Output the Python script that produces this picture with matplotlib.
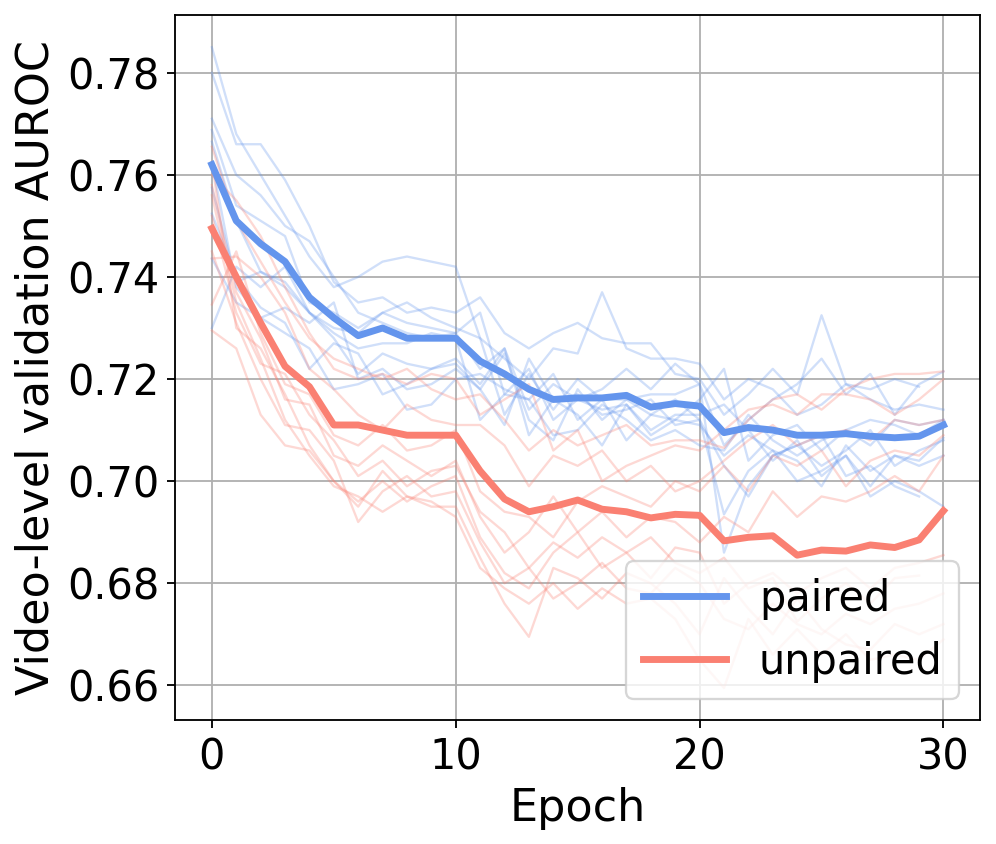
import numpy as np
import matplotlib
matplotlib.use("Agg")
import matplotlib.pyplot as plt

epochs = np.arange(31)

# mean curves
paired_mean = [0.762, 0.751, 0.7465, 0.743, 0.736, 0.732, 0.7285, 0.730, 0.728, 0.728, 0.728,
               0.7235, 0.721, 0.718, 0.716, 0.7163, 0.7163, 0.7168, 0.7145, 0.7152, 0.7147,
               0.7095, 0.7105, 0.710, 0.709, 0.709, 0.7093, 0.7088, 0.7085, 0.7088, 0.711]
unpaired_mean = [0.7495, 0.740, 0.731, 0.7225, 0.7185, 0.711, 0.711, 0.710, 0.709, 0.709, 0.709,
                 0.702, 0.6965, 0.694, 0.695, 0.6963, 0.6945, 0.694, 0.6928, 0.6935, 0.6933,
                 0.6883, 0.689, 0.6893, 0.6855, 0.6865, 0.6863, 0.6875, 0.687, 0.6885, 0.6942]

# individual runs (paired)
paired_runs = [
    [0.785, 0.768, 0.760, 0.752, 0.744, 0.738, 0.740, 0.743, 0.744, 0.743, 0.742, 0.728, 0.724, 0.720, 0.726, 0.725,
     0.737, 0.726, 0.724, 0.724, 0.723, 0.716, 0.720, 0.718, 0.713, 0.715, 0.719, 0.716, 0.714, 0.715, 0.714],
    [0.780, 0.766, 0.766, 0.759, 0.750, 0.739, 0.735, 0.736, 0.733, 0.734, 0.733, 0.736, 0.729, 0.726, 0.729, 0.731,
     0.728, 0.727, 0.727, 0.721, 0.720, 0.713, 0.717, 0.722, 0.717, 0.7325, 0.719, 0.718, 0.720, 0.7185],
    [0.771, 0.760, 0.756, 0.750, 0.747, 0.740, 0.733, 0.731, 0.729, 0.728, 0.729, 0.722, 0.726, 0.714, 0.719, 0.716,
     0.718, 0.722, 0.718, 0.723, 0.719, 0.707, 0.712, 0.716, 0.719, 0.724, 0.717, 0.721, 0.713, 0.719, 0.7215],
    [0.7688, 0.754, 0.751, 0.748, 0.735, 0.733, 0.730, 0.733, 0.731, 0.730, 0.729, 0.733, 0.717, 0.722, 0.712, 0.716,
     0.714, 0.715, 0.709, 0.712, 0.716, 0.722, 0.704, 0.709, 0.711, 0.706, 0.710, 0.712, 0.711, 0.709, 0.712],
    [0.7665, 0.751, 0.741, 0.739, 0.733, 0.728, 0.721, 0.725, 0.723, 0.722, 0.723, 0.718, 0.725, 0.712, 0.708, 0.718,
     0.712, 0.716, 0.713, 0.712, 0.711, 0.705, 0.709, 0.706, 0.704, 0.699, 0.707, 0.702, 0.705, 0.703, 0.705],
    [0.7575, 0.739, 0.741, 0.738, 0.733, 0.729, 0.726, 0.727, 0.727, 0.729, 0.728, 0.712, 0.717, 0.716, 0.721, 0.712,
     0.716, 0.708, 0.713, 0.716, 0.712, 0.703, 0.697, 0.705, 0.707, 0.709, 0.701, 0.703, 0.699, 0.697],
    [0.7524, 0.740, 0.734, 0.731, 0.722, 0.727, 0.725, 0.717, 0.719, 0.722, 0.724, 0.719, 0.726, 0.709, 0.716, 0.713,
     0.707, 0.715, 0.710, 0.713, 0.713, 0.715, 0.710, 0.704, 0.708, 0.701, 0.705, 0.697, 0.700, 0.698, 0.695],
    [0.7436, 0.735, 0.732, 0.734, 0.731, 0.735, 0.720, 0.722, 0.718, 0.719, 0.722, 0.718, 0.711, 0.724, 0.716, 0.717,
     0.713, 0.714, 0.716, 0.711, 0.712, 0.6935, 0.702, 0.706, 0.700, 0.702, 0.705, 0.699, 0.705, 0.704, 0.7085],
    [0.730, 0.742, 0.738, 0.742, 0.733, 0.730, 0.729, 0.733, 0.735, 0.732, 0.730, 0.728, 0.713, 0.721, 0.714, 0.720,
     0.716, 0.716, 0.717, 0.717, 0.719, 0.686, 0.699, 0.705, 0.707, 0.703, 0.706, 0.710, 0.703, 0.706, 0.708],
    [0.7625, 0.738, 0.732, 0.729, 0.726, 0.718, 0.719, 0.721, 0.714, 0.715, 0.720, 0.721, 0.718, 0.716, 0.709, 0.710,
     0.715, 0.712, 0.708, 0.710, 0.707, 0.706, 0.713, 0.708, 0.705, 0.708, 0.710, 0.707, 0.712, 0.711, 0.712],
]

# individual runs (unpaired)
unpaired_runs = [
    [0.7655, 0.751, 0.743, 0.735, 0.728, 0.724, 0.722, 0.720, 0.722, 0.718, 0.716, 0.717, 0.712, 0.706, 0.710, 0.707,
     0.709, 0.711, 0.707, 0.708, 0.708, 0.7065, 0.712, 0.716, 0.717, 0.714, 0.718, 0.720, 0.721, 0.721, 0.7215],
    [0.760, 0.755, 0.748, 0.738, 0.729, 0.722, 0.720, 0.721, 0.719, 0.721, 0.720, 0.713, 0.716, 0.719, 0.706, 0.710,
     0.700, 0.703, 0.705, 0.707, 0.706, 0.710, 0.714, 0.715, 0.713, 0.717, 0.717, 0.716, 0.713, 0.716, 0.720],
    [0.7436, 0.744, 0.740, 0.733, 0.722, 0.718, 0.713, 0.710, 0.715, 0.712, 0.711, 0.711, 0.707, 0.699, 0.705, 0.703,
     0.706, 0.700, 0.703, 0.698, 0.700, 0.704, 0.708, 0.711, 0.707, 0.709, 0.710, 0.708, 0.712, 0.711, 0.712],
    [0.7346, 0.745, 0.729, 0.719, 0.717, 0.709, 0.707, 0.711, 0.706, 0.707, 0.710, 0.698, 0.694, 0.693, 0.689, 0.696,
     0.699, 0.697, 0.695, 0.700, 0.698, 0.703, 0.698, 0.705, 0.703, 0.706, 0.699, 0.704, 0.706, 0.705, 0.709],
    [0.758, 0.737, 0.728, 0.716, 0.715, 0.705, 0.703, 0.707, 0.704, 0.701, 0.704, 0.693, 0.686, 0.690, 0.697, 0.690,
     0.694, 0.689, 0.693, 0.692, 0.688, 0.693, 0.690, 0.698, 0.693, 0.697, 0.696, 0.698, 0.701, 0.698, 0.705],
    [0.752, 0.733, 0.723, 0.721, 0.713, 0.708, 0.701, 0.704, 0.699, 0.702, 0.703, 0.694, 0.690, 0.683, 0.688, 0.685,
     0.689, 0.686, 0.681, 0.687, 0.686, 0.676, 0.680, 0.682, 0.678, 0.681, 0.683, 0.679, 0.683, 0.684, 0.6855],
    [0.7625, 0.730, 0.726, 0.717, 0.707, 0.700, 0.696, 0.700, 0.696, 0.699, 0.701, 0.689, 0.682, 0.679, 0.686, 0.690,
     0.683, 0.686, 0.689, 0.684, 0.682, 0.685, 0.679, 0.681, 0.6725, 0.677, 0.680, 0.676, 0.681, 0.6815],
    [0.745, 0.731, 0.720, 0.711, 0.710, 0.704, 0.692, 0.698, 0.701, 0.697, 0.698, 0.688, 0.680, 0.683, 0.677, 0.680,
     0.684, 0.679, 0.678, 0.683, 0.680, 0.673, 0.671, 0.676, 0.672, 0.670, 0.674, 0.672, 0.675, 0.676, 0.678],
    [0.756, 0.735, 0.724, 0.712, 0.705, 0.699, 0.697, 0.694, 0.697, 0.695, 0.695, 0.685, 0.676, 0.6695, 0.683, 0.681,
     0.677, 0.682, 0.680, 0.676, 0.670, 0.681, 0.675, 0.670, 0.677, 0.671, 0.668, 0.667, 0.672, 0.670, 0.672],
    [0.7295, 0.726, 0.713, 0.707, 0.706, 0.700, 0.695, 0.702, 0.697, 0.696, 0.693, 0.683, 0.679, 0.676, 0.680, 0.675,
     0.679, 0.676, 0.677, 0.673, 0.665, 0.6595, 0.673, 0.666, 0.671, 0.666, 0.670, 0.665, 0.666, 0.665, 0.669],
]

blue = "cornflowerblue"
red = "salmon"

plt.rcParams["font.size"] = 18
plt.rcParams["axes.labelsize"] = 19.3
fig, ax = plt.subplots(figsize=(6, 844 / 166), dpi=166)
fig.subplots_adjust(left=0.176, right=0.984, top=0.982, bottom=0.147)

for run in paired_runs:
    ax.plot(epochs[:len(run)], run, color=blue, alpha=0.3, lw=1)
for run in unpaired_runs:
    ax.plot(epochs[:len(run)], run, color=red, alpha=0.3, lw=1)

ax.plot(epochs, paired_mean, color=blue, lw=3, label="paired")
ax.plot(epochs, unpaired_mean, color=red, lw=3, label="unpaired")

ax.set_xlabel("Epoch")
ax.set_ylabel("Video-level validation AUROC")
ax.set_xticks([0, 10, 20, 30])
ax.grid()
ax.legend(loc="lower right", fontsize=18)

fig.savefig("out.png", dpi=166)
